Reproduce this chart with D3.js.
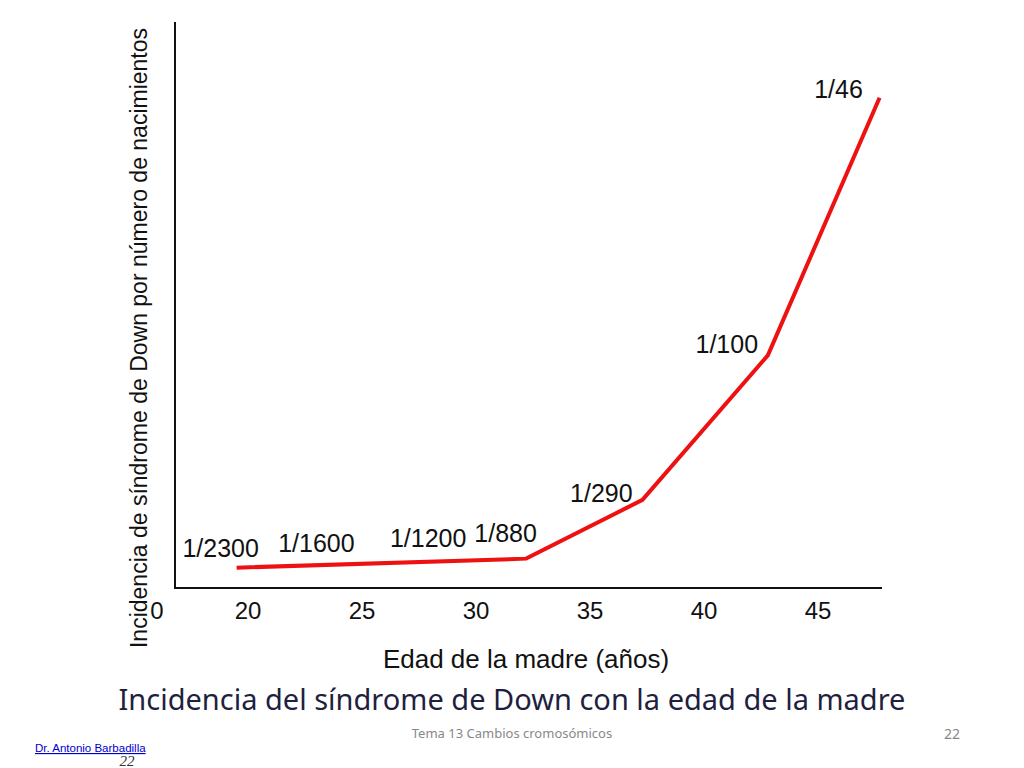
<!DOCTYPE html>
<html><head><meta charset="utf-8">
<script src="https://cdn.jsdelivr.net/npm/d3@7"></script>
<style>body{margin:0;background:#fff}</style>
</head><body>
<script>
// incidence per 1000 births, age of mother
var ages = [19.5, 32.2, 37.3, 42.8, 47.7];
var rates = [0.9, 1.3, 3.9, 10.3, 21.7];
var labels = ["1/2300", "1/1600", "1/1200", "1/880", "1/290", "1/100", "1/46"];
var labelAges = [18.8, 23, 27.9, 31.3, 35.5, 41, 45.9];
var labelRates = [1.77, 2.0, 2.2, 2.43, 4.2, 10.8, 22.1];
var ticks = [20, 25, 30, 35, 40, 45];

var svg = d3.select("body").append("svg").attr("width", 1024).attr("height", 768);
var x = d3.scaleLinear().domain([20, 45]).range([248, 818]);
var y = d3.scaleLinear().domain([0, 22]).range([588, 91]);

svg.append("line").attr("x1", 175).attr("x2", 175).attr("y1", 22).attr("y2", 588)
  .attr("stroke", "#111").attr("stroke-width", 2);
svg.append("line").attr("x1", 174).attr("x2", 882).attr("y1", 588).attr("y2", 588)
  .attr("stroke", "#111").attr("stroke-width", 2);

var font = "Liberation Sans, Arial, sans-serif";
svg.selectAll(".tk").data(ticks).enter().append("text")
  .attr("x", d => x(d)).attr("y", 619).attr("text-anchor", "middle")
  .attr("font-family", font).attr("font-size", 24).attr("fill", "#111").text(d => d);
svg.append("text").attr("x", 157).attr("y", 619).attr("text-anchor", "middle")
  .attr("font-family", font).attr("font-size", 24).attr("fill", "#111").text("0");

svg.append("path").datum(d3.zip(ages, rates))
  .attr("d", d3.line().x(d => x(d[0])).y(d => y(d[1])))
  .attr("fill", "none").attr("stroke", "#ee1111").attr("stroke-width", 4);

svg.selectAll(".lb").data(labels).enter().append("text")
  .attr("x", (d, i) => x(labelAges[i])).attr("y", (d, i) => y(labelRates[i]) + 9)
  .attr("text-anchor", "middle").attr("font-family", font).attr("font-size", 25)
  .attr("fill", "#111").text(d => d);

svg.append("text").attr("transform", "translate(147,338) rotate(-90)")
  .attr("text-anchor", "middle").attr("font-family", font).attr("font-size", 23)
  .attr("fill", "#111").text("Incidencia de síndrome de Down por número de nacimientos");
svg.append("text").attr("x", 526).attr("y", 668).attr("text-anchor", "middle")
  .attr("font-family", font).attr("font-size", 26).attr("fill", "#111").text("Edad de la madre (años)");

svg.append("text").attr("x", 512).attr("y", 710).attr("text-anchor", "middle")
  .attr("font-family", "Noto Sans, sans-serif").attr("font-size", 29).attr("fill", "#1f1f3f")
  .text("Incidencia del síndrome de Down con la edad de la madre");
svg.append("text").attr("x", 512).attr("y", 738).attr("text-anchor", "middle")
  .attr("font-family", "Noto Sans, sans-serif").attr("font-size", 13).attr("fill", "#888")
  .text("Tema 13 Cambios cromosómicos");
svg.append("text").attr("x", 952).attr("y", 739).attr("text-anchor", "middle")
  .attr("font-family", "Noto Sans, sans-serif").attr("font-size", 14).attr("fill", "#888").text("22");
svg.append("text").attr("x", 35).attr("y", 752)
  .attr("font-family", font).attr("font-size", 11.5).attr("fill", "#0000cc")
  .attr("text-decoration", "underline").text("Dr. Antonio Barbadilla");
svg.append("text").attr("x", 127).attr("y", 766).attr("text-anchor", "middle")
  .attr("font-family", "Liberation Serif, serif").attr("font-style", "italic").attr("font-size", 15)
  .attr("fill", "#333").text("22");
</script>
</body></html>
